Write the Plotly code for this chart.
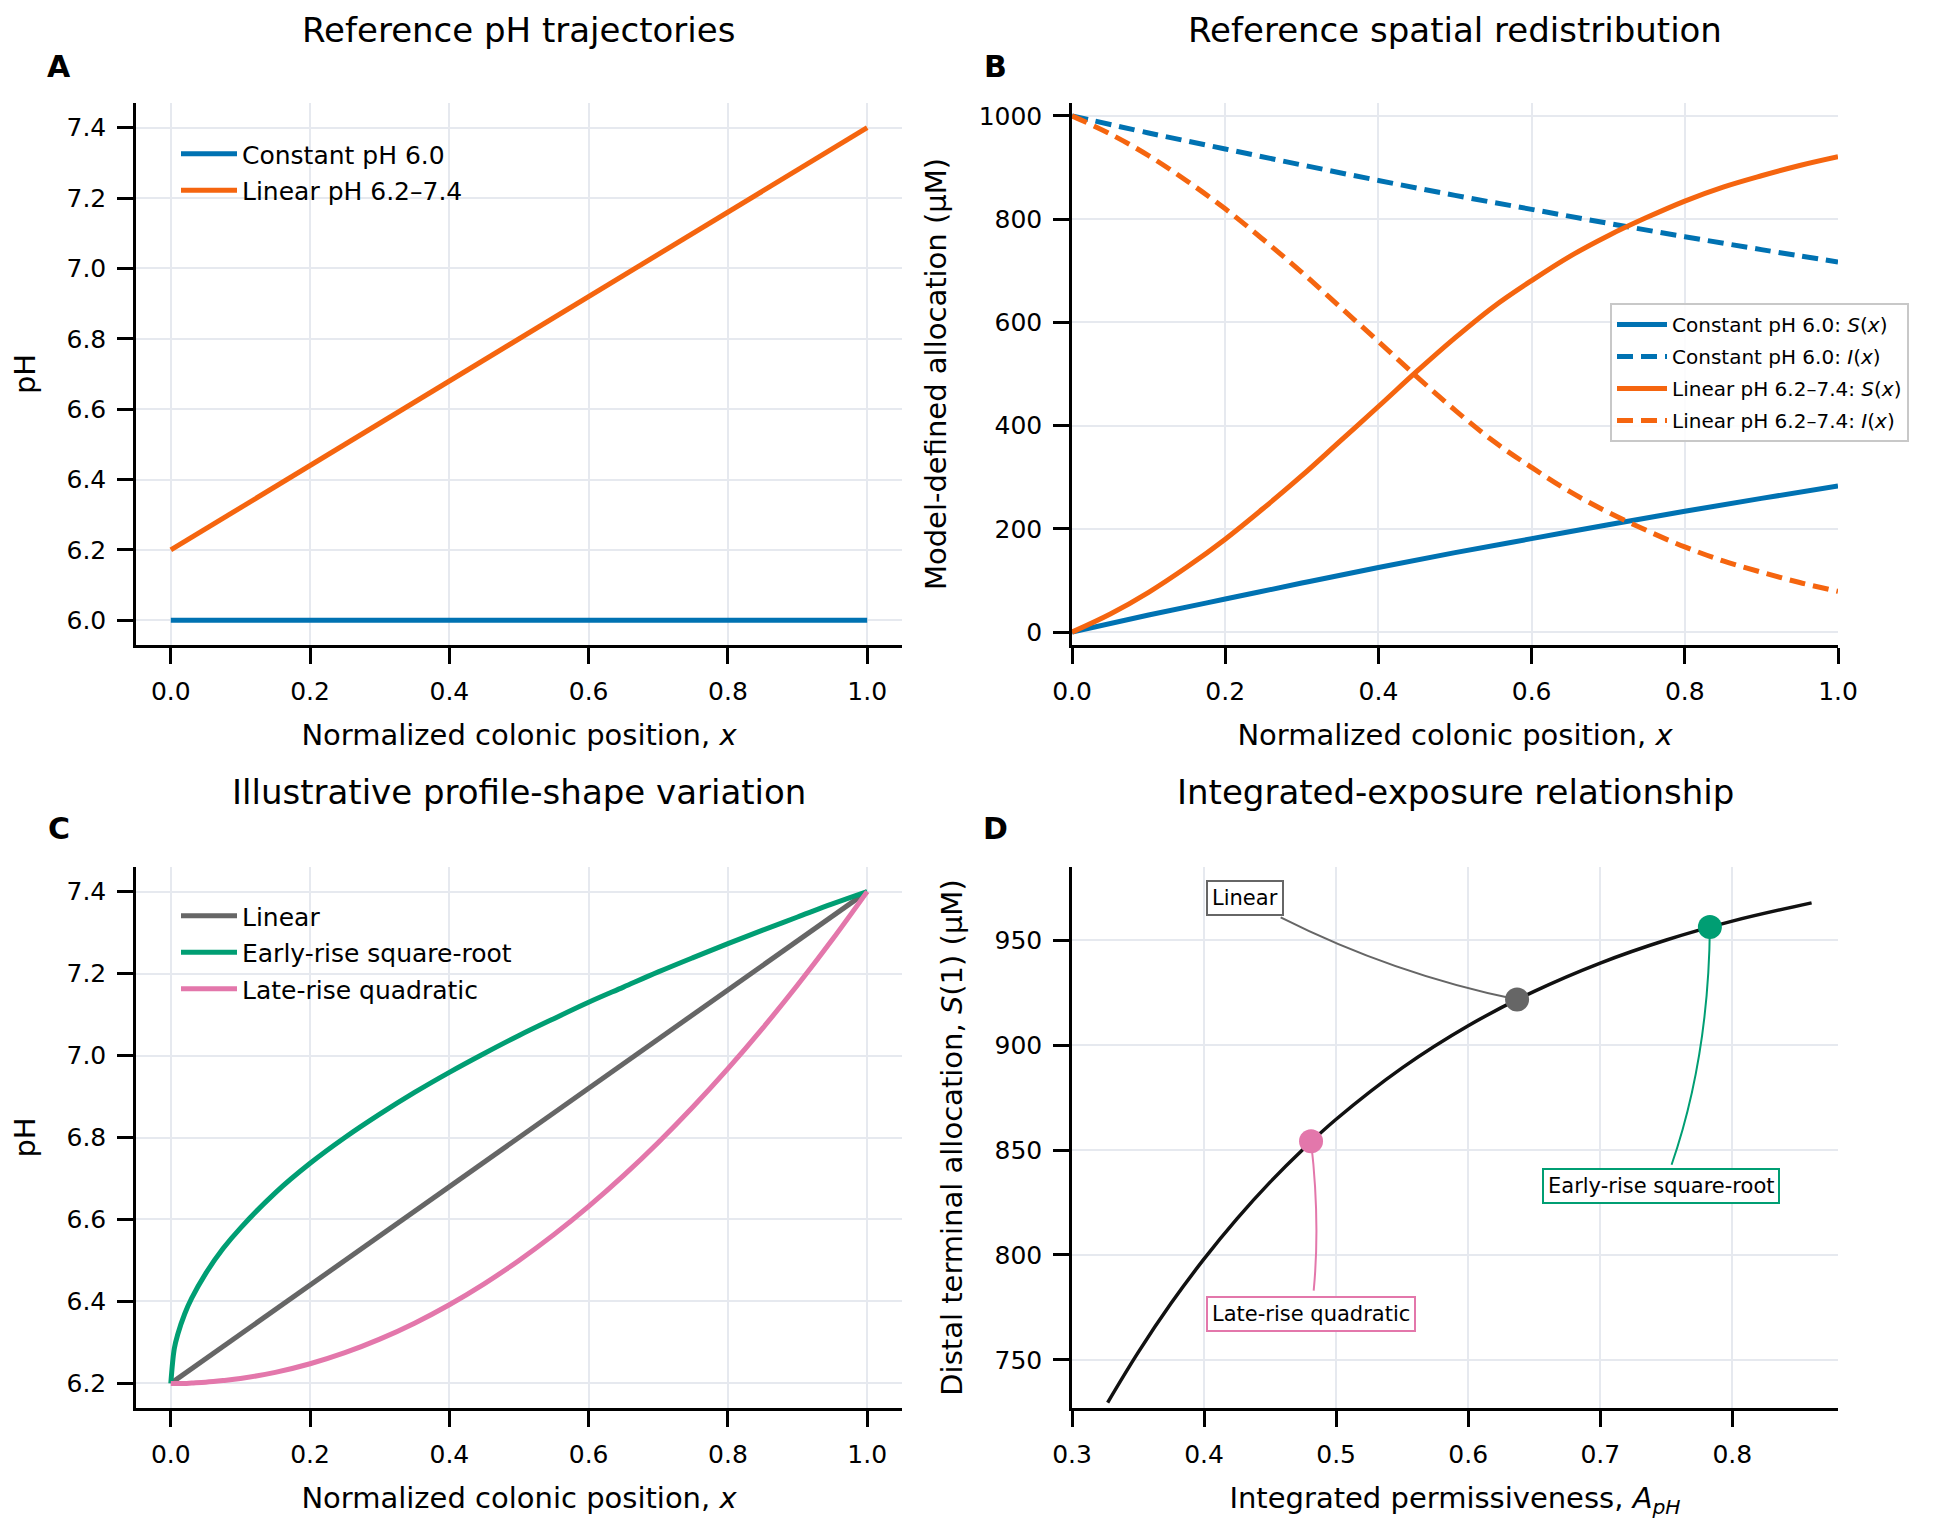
import plotly.graph_objects as go
from plotly.subplots import make_subplots

# colours
BLUE = "#0072B2"
ORANGE = "#F5650F"
GRAY = "#666666"
GREEN = "#009E73"
PINK = "#E377AB"
GRID = "#E6E9EF"
FONT = "DejaVu Sans"

# ---- data ----
# A: reference pH trajectories
x_a = [0.0, 1.0]
ph_constant = [6.0, 6.0]
ph_linear = [6.2, 7.4]

# B: spatial redistribution (uM)
x_b_const = [0.0, 0.1, 0.2, 0.3, 0.4, 0.5, 0.6, 0.7, 0.8, 0.9, 1.0]
s_const = [0, 33, 64, 95, 125, 154, 181, 208, 234, 259, 283]
i_const = [1000, 967, 936, 905, 875, 846, 819, 792, 766, 741, 717]
x_b_lin = [0.0, 0.05, 0.1, 0.15, 0.2, 0.25, 0.3, 0.35, 0.4, 0.45, 0.5,
           0.55, 0.6, 0.65, 0.7, 0.75, 0.8, 0.85, 0.9, 0.95, 1.0]
s_lin = [0, 35, 77, 126, 180, 240, 303, 370, 437, 505, 570,
         630, 681, 728, 768, 803, 835, 862, 884, 904, 921]
i_lin = [1000, 965, 923, 874, 820, 760, 697, 630, 563, 495, 430,
         370, 319, 272, 232, 197, 165, 138, 116, 96, 79]

# C: profile shapes
x_c = [0.0, 0.005, 0.01, 0.02, 0.03, 0.05, 0.075, 0.1, 0.15, 0.2, 0.25, 0.3, 0.35,
       0.4, 0.45, 0.5, 0.55, 0.6, 0.65, 0.7, 0.75, 0.8, 0.85, 0.9, 0.95, 1.0]
ph_sqrt = [6.2, 6.285, 6.32, 6.37, 6.408, 6.468, 6.529, 6.579, 6.665, 6.737, 6.8, 6.857, 6.91,
           6.959, 7.005, 7.049, 7.09, 7.13, 7.167, 7.204, 7.239, 7.273, 7.306, 7.338, 7.37, 7.4]
ph_quad = [6.2, 6.2, 6.2, 6.2, 6.201, 6.203, 6.207, 6.212, 6.227, 6.248, 6.275, 6.308, 6.347,
           6.392, 6.443, 6.5, 6.563, 6.632, 6.707, 6.788, 6.875, 6.968, 7.067, 7.172, 7.283, 7.4]
x_c_lin = [0.0, 1.0]
ph_c_lin = [6.2, 7.4]

# D: integrated exposure
a_curve = [0.327, 0.35, 0.375, 0.4, 0.425, 0.45, 0.475, 0.5, 0.55, 0.6, 0.65, 0.7, 0.75, 0.8, 0.86]
s1_curve = [729.6, 753.4, 776.9, 798.1, 817.3, 834.7, 850.4, 864.7, 889.2, 909.3, 925.7,
            939.2, 950.2, 959.2, 967.9]
profiles = ["Linear", "Early-rise square-root", "Late-rise quadratic"]
a_points = [0.637, 0.783, 0.481]
s1_points = [921.8, 956.4, 854.2]

fig = make_subplots(rows=2, cols=2)

LW = 5

# A
fig.add_trace(go.Scatter(x=x_a, y=ph_constant, mode="lines", name="Constant pH 6.0",
                         line=dict(color=BLUE, width=LW), legend="legend", legendgroup="a0"), row=1, col=1)
fig.add_trace(go.Scatter(x=x_a, y=ph_linear, mode="lines", name="Linear pH 6.2–7.4",
                         line=dict(color=ORANGE, width=LW), legend="legend", legendgroup="a1"), row=1, col=1)

# B
b_series = [
    (x_b_const, s_const, "Constant pH 6.0: <i>S</i>(<i>x</i>)", BLUE, "solid"),
    (x_b_const, i_const, "Constant pH 6.0: <i>I</i>(<i>x</i>)", BLUE, "16px,8px"),
    (x_b_lin, s_lin, "Linear pH 6.2–7.4: <i>S</i>(<i>x</i>)", ORANGE, "solid"),
    (x_b_lin, i_lin, "Linear pH 6.2–7.4: <i>I</i>(<i>x</i>)", ORANGE, "16px,8px"),
]
for k, (xs, ys, nm, col, dash) in enumerate(b_series):
    fig.add_trace(go.Scatter(x=xs, y=ys, mode="lines", name=nm,
                             line=dict(color=col, width=LW, dash=dash, shape="spline"),
                             legend="legend2", legendgroup=f"b{k}"), row=1, col=2)

# C
fig.add_trace(go.Scatter(x=x_c_lin, y=ph_c_lin, mode="lines", name="Linear",
                         line=dict(color=GRAY, width=LW), legend="legend3", legendgroup="c0"), row=2, col=1)
fig.add_trace(go.Scatter(x=x_c, y=ph_sqrt, mode="lines", name="Early-rise square-root",
                         line=dict(color=GREEN, width=LW, shape="spline"), legend="legend3",
                         legendgroup="c1"), row=2, col=1)
fig.add_trace(go.Scatter(x=x_c, y=ph_quad, mode="lines", name="Late-rise quadratic",
                         line=dict(color=PINK, width=LW, shape="spline"), legend="legend3",
                         legendgroup="c2"), row=2, col=1)

# D
fig.add_trace(go.Scatter(x=a_curve, y=s1_curve, mode="lines", showlegend=False,
                         line=dict(color="#111111", width=3.5, shape="spline")), row=2, col=2)
fig.add_trace(go.Scatter(x=a_points, y=s1_points, mode="markers", showlegend=False,
                         marker=dict(color=[GRAY, GREEN, PINK], size=24)), row=2, col=2)

# annotation boxes + curved connectors in panel D (label centre, connector start, control point)
label_pos = [(0.431, 970), (0.746, 833), (0.481, 772)]
conn_start = [(0.458, 961), (0.754, 843), (0.483, 783)]
conn_ctrl = [(0.543, 934), (0.782, 894), (0.488, 816)]
label_col = [GRAY, GREEN, PINK]
for nm, (lx, ly), (sx, sy), (cx, cy), px, py, col in zip(profiles, label_pos, conn_start, conn_ctrl,
                                                       a_points, s1_points, label_col):
    fig.add_shape(type="path", path=f"M {sx},{sy} Q {cx},{cy} {px},{py}", xref="x4", yref="y4",
                  line=dict(color=col, width=2), layer="between")
    fig.add_annotation(x=lx, y=ly, xref="x4", yref="y4", text=nm, showarrow=False,
                       font=dict(size=21, color="black"), bgcolor="white", bordercolor=col,
                       borderwidth=2, borderpad=4)

# layout (pixel positions measured on the reference, minus the page's 8px body margin)
W, H = 1950, 1538
OFF = 8


def px_x(v):
    return (v - OFF) / W


def px_y(v):
    return 1 - (v - OFF) / H


col_dom = [[px_x(136), px_x(902)], [px_x(1072), px_x(1838)]]
row_dom = [[px_y(645), px_y(103)], [px_y(1408), px_y(867)]]

axis_style = dict(showline=True, linecolor="black", linewidth=2.5, ticks="outside", ticklen=16,
                  tickwidth=2.5, tickcolor="black", showgrid=True, gridcolor=GRID, gridwidth=2,
                  zeroline=False, mirror=False, tickfont=dict(size=25, color="black"),
                  ticklabelstandoff=6, automargin=False)
x_title = "Normalized colonic position, <i>x</i>"

fig.update_xaxes(**axis_style)
fig.update_yaxes(**axis_style)
fig.update_xaxes(row=1, col=1, domain=col_dom[0], range=[-0.05, 1.05], dtick=0.2, tickformat=".1f",
                 title=dict(text=x_title, font=dict(size=29), standoff=20))
fig.update_yaxes(row=1, col=1, domain=row_dom[0], range=[5.93, 7.47], dtick=0.2, tickformat=".1f",
                 title=dict(text="pH", font=dict(size=29), standoff=24))
fig.update_xaxes(row=1, col=2, domain=col_dom[1], range=[0, 1], dtick=0.2, tickformat=".1f",
                 title=dict(text=x_title, font=dict(size=29), standoff=20))
fig.update_yaxes(row=1, col=2, domain=row_dom[0], range=[-25, 1025], dtick=200,
                 title=dict(text="Model-defined allocation (µM)", font=dict(size=29), standoff=24))
fig.update_xaxes(row=2, col=1, domain=col_dom[0], range=[-0.05, 1.05], dtick=0.2, tickformat=".1f",
                 title=dict(text=x_title, font=dict(size=29), standoff=20))
fig.update_yaxes(row=2, col=1, domain=row_dom[1], range=[6.14, 7.46], dtick=0.2, tickformat=".1f",
                 title=dict(text="pH", font=dict(size=29), standoff=24))
fig.update_xaxes(row=2, col=2, domain=col_dom[1], range=[0.3, 0.88], dtick=0.1, tickformat=".1f",
                 title=dict(text="Integrated permissiveness, <i>A</i><sub><i>pH</i></sub>",
                            font=dict(size=29), standoff=20))
fig.update_yaxes(row=2, col=2, domain=row_dom[1], range=[727, 985], dtick=50,
                 title=dict(text="Distal terminal allocation, <i>S</i>(1) (µM)", font=dict(size=29),
                            standoff=24))

# panel titles and letters
titles = ["Reference pH trajectories", "Reference spatial redistribution",
          "Illustrative profile-shape variation", "Integrated-exposure relationship"]
letters = ["A", "B", "C", "D"]
title_y = [px_y(30), px_y(30), px_y(792), px_y(792)]
letter_y = [px_y(66), px_y(66), px_y(828), px_y(828)]
letter_x = [px_x(59), px_x(995), px_x(59), px_x(995)]
for k in range(4):
    dom = col_dom[k % 2]
    fig.add_annotation(x=(dom[0] + dom[1]) / 2, y=title_y[k], xref="paper", yref="paper",
                       text=titles[k], showarrow=False, font=dict(size=34, color="black"),
                       xanchor="center", yanchor="middle")
    fig.add_annotation(x=letter_x[k], y=letter_y[k], xref="paper", yref="paper",
                       text=f"<b>{letters[k]}</b>", showarrow=False, font=dict(size=30, color="black"),
                       xanchor="center", yanchor="middle")

fig.update_layout(
    width=W, height=H, margin=dict(l=0, r=0, t=0, b=0),
    plot_bgcolor="white", paper_bgcolor="white",
    font=dict(family=FONT, color="black"),
    legend=dict(x=px_x(176), y=px_y(131), xanchor="left", yanchor="top", bgcolor="rgba(0,0,0,0)",
                font=dict(size=25), tracegroupgap=1, itemwidth=56),
    legend2=dict(x=px_x(1610), y=px_y(303), xanchor="left", yanchor="top",
                 bgcolor="rgba(255,255,255,0.85)", bordercolor="#C8C8C8", borderwidth=2,
                 font=dict(size=20), tracegroupgap=3, itemwidth=50),
    legend3=dict(x=px_x(176), y=px_y(893), xanchor="left", yanchor="top", bgcolor="rgba(0,0,0,0)",
                 font=dict(size=25), tracegroupgap=1, itemwidth=56),
)

fig.write_html("out.html")
